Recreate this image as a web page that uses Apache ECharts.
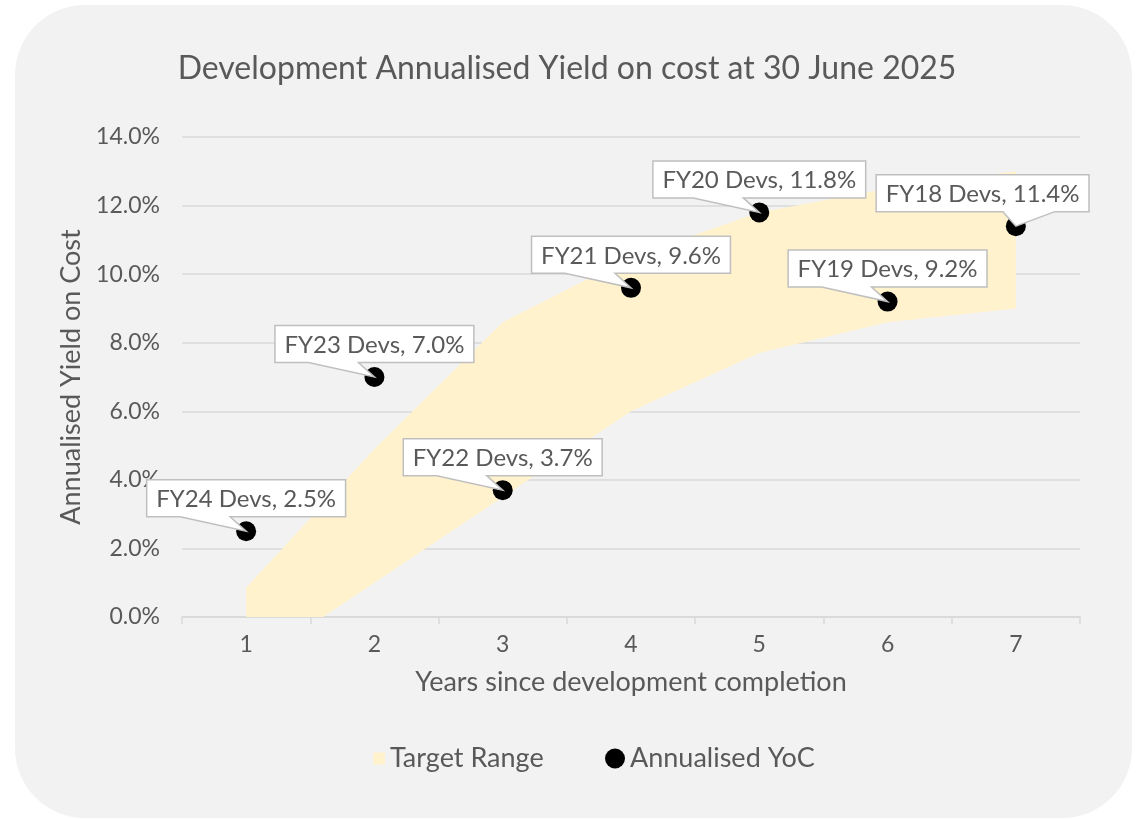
<!DOCTYPE html>
<html>
<head>
<meta charset="utf-8">
<script src="https://cdn.jsdelivr.net/npm/echarts@6/dist/echarts.min.js"></script>
<style>
html,body{margin:0;padding:0;background:#fff;}
#chart{width:1140px;height:819px;}
</style>
</head>
<body>
<div id="chart"></div>
<script>
// ---- data ----
const categories = ['1', '2', '3', '4', '5', '6', '7'];
const targetLower = [-1.5, 1.0, 3.5, 6.0, 7.7, 8.6, 9.0];
const targetUpper = [0.85, 4.9, 8.6, 10.5, 11.8, 12.5, 13.0];
const yocValues = [2.5, 7.0, 3.7, 9.6, 11.8, 9.2, 11.4];
const pointNames = ['FY24 Devs', 'FY23 Devs', 'FY22 Devs', 'FY21 Devs', 'FY20 Devs', 'FY19 Devs', 'FY18 Devs'];
const titleText = 'Development Annualised Yield on cost at 30 June 2025';
const yAxisTitle = 'Annualised Yield on Cost';
const xAxisTitle = 'Years since development completion';
const bandName = 'Target Range';
const pointSeriesName = 'Annualised YoC';

// ---- styling ----
const FONT = 'Lato, "Open Sans", "Noto Sans", sans-serif';
const TXT = '#595959';
const GRID = '#d9d9d9';
const labelFontSize = 24;
const labelFont = labelFontSize + 'px ' + FONT;

const measureCtx = document.createElement('canvas').getContext('2d');
function textWidth(t) { measureCtx.font = labelFont; return measureCtx.measureText(t).width; }

const bandWidths = targetUpper.map((u, i) => +(u - targetLower[i]).toFixed(3));

const chart = echarts.init(document.getElementById('chart'), null, {renderer: 'canvas'});

const option = {
  animation: false,
  backgroundColor: '#ffffff',
  textStyle: {fontFamily: FONT, color: TXT},
  graphic: [{
    type: 'rect', z: -10, silent: true,
    shape: {x: 15, y: 5, width: 1117, height: 813, r: 70},
    style: {fill: '#f2f2f2'}
  }],
  title: {
    text: titleText,
    left: 562, top: 48, textAlign: 'center',
    textStyle: {fontFamily: FONT, fontSize: 32, fontWeight: 'normal', color: TXT}
  },
  legend: [{
    data: [{name: bandName, icon: 'rect', itemStyle: {color: '#fff2cc', borderWidth: 0, opacity: 1}}],
    left: 373, top: 745, padding: 0,
    itemWidth: 12, itemHeight: 12, itemGap: 5,
    textStyle: {fontFamily: FONT, fontSize: 27, color: TXT},
    selectedMode: false
  }, {
    data: [{name: pointSeriesName, icon: 'circle', itemStyle: {color: '#000000', opacity: 1}}],
    left: 605, top: 745, padding: 0,
    itemWidth: 20, itemHeight: 20,
    textStyle: {fontFamily: FONT, fontSize: 27, color: TXT},
    selectedMode: false
  }],
  grid: {left: 182, right: 60, top: 137, bottom: 202, containLabel: false},
  xAxis: {
    type: 'category',
    data: categories,
    boundaryGap: true,
    name: xAxisTitle,
    nameLocation: 'middle',
    nameGap: 52,
    nameTextStyle: {fontFamily: FONT, fontSize: 27, color: TXT},
    axisLine: {show: true, lineStyle: {color: GRID, width: 1.5}},
    axisTick: {show: true, alignWithLabel: false, length: 7, lineStyle: {color: GRID, width: 1.5}},
    axisLabel: {fontFamily: FONT, fontSize: 23, color: TXT, margin: 16},
    splitLine: {show: false}
  },
  yAxis: {
    type: 'value',
    min: 0, max: 14, interval: 2,
    name: yAxisTitle,
    nameLocation: 'middle',
    nameGap: 91,
    nameRotate: 90,
    nameTextStyle: {fontFamily: FONT, fontSize: 27, color: TXT},
    axisLine: {show: false},
    axisTick: {show: false},
    axisLabel: {fontFamily: FONT, fontSize: 23, color: TXT, margin: 22, formatter: v => v.toFixed(1) + '%'},
    splitLine: {show: true, lineStyle: {color: GRID, width: 1.5}}
  },
  series: [{
    name: 'lowerBase',
    type: 'line',
    stack: 'target',
    stackStrategy: 'all',
    data: targetLower,
    symbol: 'none',
    lineStyle: {opacity: 0, width: 0},
    silent: true,
    z: 2
  }, {
    name: bandName,
    type: 'line',
    stack: 'target',
    stackStrategy: 'all',
    data: bandWidths,
    symbol: 'none',
    itemStyle: {color: '#fff2cc'},
    lineStyle: {opacity: 0, width: 0},
    areaStyle: {color: '#fff2cc', opacity: 1},
    silent: true,
    z: 2
  }, {
    name: pointSeriesName,
    type: 'scatter',
    data: yocValues,
    symbol: 'circle',
    symbolSize: 20,
    itemStyle: {color: '#000000', opacity: 1},
    z: 3
  }, {
    name: 'callouts',
    type: 'custom',
    data: yocValues.map((v, i) => [i, v]),
    z: 4,
    silent: true,
    renderItem: function (params, api) {
      const i = params.dataIndex;
      const val = api.value(1);
      const p = api.coord([api.value(0), val]);
      const text = pointNames[i] + ', ' + val.toFixed(1) + '%';
      const w = textWidth(text) + 19;
      const h = 37;
      const cs = params.coordSys;
      const maxRight = cs.x + cs.width + 9;
      let cx = p[0];
      let mirror = false;
      if (cx + w / 2 > maxRight) { cx = maxRight - w / 2; mirror = true; }
      const B = p[1] - 14.5, T = B - h, L = cx - w / 2, R = cx + w / 2;
      let b1, b2;
      if (!mirror) { b1 = cx - 66; b2 = cx - 16; } else { b1 = p[0] - 13; b2 = p[0] + 39; }
      return {
        type: 'group',
        children: [{
          type: 'polygon',
          shape: {points: [[L, T], [R, T], [R, B], [b2, B], [p[0], p[1]], [b1, B], [L, B]]},
          style: {fill: '#ffffff', stroke: '#bfbfbf', lineWidth: 1.5}
        }, {
          type: 'text',
          style: {
            text: text, x: cx, y: (T + B) / 2 + 1,
            align: 'center', verticalAlign: 'middle',
            textAlign: 'center', textVerticalAlign: 'middle',
            font: labelFont, fill: TXT
          }
        }]
      };
    }
  }]
};
chart.setOption(option);
</script>
</body>
</html>
